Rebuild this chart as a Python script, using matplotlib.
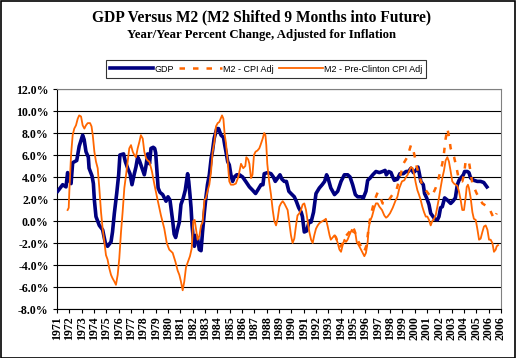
import numpy as np
import matplotlib.pyplot as plt
from matplotlib.patches import Rectangle
from matplotlib.lines import Line2D

# x values are in "years since 1971" along the category axis
gdp_x = [0.05, 0.46, 0.73, 0.86, 1.0, 1.14, 1.27, 1.6, 1.8, 2.08, 2.2, 2.35, 2.54, 2.6, 2.84,
         2.95, 3.03, 3.16, 3.43, 3.7, 3.92, 4.1, 4.38, 4.5, 4.65, 4.84, 5.0, 5.1, 5.4, 5.54,
         5.73, 5.92, 6.08, 6.27, 6.4, 6.54, 6.68, 6.9, 7.08, 7.2, 7.35, 7.5, 7.62, 7.8, 7.92,
         8.0, 8.1, 8.2, 8.35, 8.57, 8.84, 9.0, 9.16, 9.24, 9.38, 9.5, 9.62, 9.78, 9.92, 10.05,
         10.24, 10.4, 10.5, 10.59, 10.68, 10.78, 10.87, 10.95, 11.05, 11.14, 11.27, 11.4, 11.54,
         11.68, 11.8, 11.95, 12.08, 12.2, 12.35, 12.5, 12.6, 12.74, 12.95, 13.1, 13.3, 13.5,
         13.6, 13.7, 13.84, 13.97, 14.1, 14.24, 14.38, 14.57, 14.8, 15.05, 15.3, 15.6, 15.86,
         16.1, 16.27, 16.54, 16.7, 16.8, 17.08, 17.35, 17.54, 17.7, 17.89, 18.08, 18.24, 18.43,
         18.6, 18.8, 18.97, 19.24, 19.4, 19.6, 19.8, 19.9, 20.05, 20.24, 20.46, 20.6, 20.8,
         21.0, 21.27, 21.5, 21.7, 21.86, 22.0, 22.2, 22.5, 22.76, 23.03, 23.3, 23.57, 23.76,
         23.97, 24.19, 24.38, 24.65, 24.84, 25.05, 25.19, 25.38, 25.6, 25.86, 26.14, 26.4,
         26.6, 26.7, 26.9, 27.08, 27.22, 27.35, 27.6, 27.8, 28.08, 28.3, 28.5, 28.7, 28.9,
         29.1, 29.27, 29.4, 29.5, 29.7, 29.8, 29.97, 30.16, 30.3, 30.43, 30.62, 30.84, 30.97,
         31.1, 31.24, 31.43, 31.65, 31.92, 32.1, 32.3, 32.46, 32.6, 32.73, 32.95, 33.05,
         33.27, 33.4, 33.54, 33.8, 34.08, 34.35, 34.6, 34.73, 34.86]
gdp_v = [2.7, 3.3, 3.1, 4.4, 3.7, 3.4, 5.3, 5.5, 6.8, 7.8, 7.4, 6.3, 5.8, 4.8, 4.1,
         3.4, 1.9, 0.4, -0.4, -0.8, -2.0, -2.3, -1.9, -1.0, 0.7, 2.5, 4.2, 6.0, 6.1, 5.4,
         4.8, 4.3, 3.3, 4.3, 4.9, 5.8, 5.5, 4.8, 4.2, 4.9, 6.1, 5.2, 6.6, 6.7, 6.6,
         6.2, 4.6, 3.0, 2.6, 2.4, 1.8, 2.2, 1.9, 1.2, 0.0, -1.2, -1.5, -0.7, -0.1, 1.5,
         2.1, 2.8, 3.6, 4.3, 3.6, 2.4, 1.2, -0.4, -1.6, -2.3, -1.3, -1.6, -2.6,
         -2.7, -1.0, 0.8, 2.2, 3.3, 4.2, 5.7, 6.3, 7.5, 8.4, 8.4, 7.8, 7.6,
         6.9, 6.3, 5.4, 5.1, 4.2, 3.6, 4.0, 4.2, 4.2, 4.0, 3.6, 3.1, 2.8,
         2.5, 2.8, 3.3, 3.3, 4.3, 4.4, 4.3, 4.0, 3.6, 3.9, 4.2, 3.8, 3.6,
         3.6, 2.7, 2.5, 2.2, 1.8, 1.2, 0.8, 0.4, -1.0, -0.9, 0.0, -0.1, 0.8,
         2.5, 3.0, 3.3, 3.6, 4.2, 3.8, 3.0, 2.4, 2.7, 3.6, 4.2, 4.2, 4.0,
         3.3, 2.4, 2.2, 2.2, 2.1, 2.7, 3.7, 3.9, 4.2, 4.5, 4.4, 4.5,
         4.6, 4.2, 4.5, 4.4, 4.0, 3.7, 3.8, 4.3, 4.3, 4.5, 4.5, 4.8, 4.4,
         4.6, 4.9, 4.2, 3.6, 3.3, 2.5, 2.1, 1.5, 0.7, 0.5, 0.2, 0.1, 0.4,
         1.2, 1.3, 2.1, 1.9, 1.6, 1.8, 2.1, 3.3, 3.7, 3.9, 4.2, 4.5,
         4.5, 4.4, 3.9, 3.7, 3.6, 3.6, 3.5, 3.3, 3.1]

pre_x = [0.86, 0.95, 1.0, 1.05, 1.14, 1.27, 1.4, 1.54, 1.68, 1.8, 1.95, 2.08, 2.22, 2.35, 2.49,
         2.68, 2.8, 2.9, 3.03, 3.16, 3.3, 3.43, 3.57, 3.7, 3.84, 3.97, 4.1, 4.24, 4.38, 4.5,
         4.65, 4.78, 4.92, 5.05, 5.19, 5.32, 5.46, 5.6, 5.73, 5.86, 6.0, 6.14, 6.27, 6.4, 6.54,
         6.68, 6.8, 6.95, 7.08, 7.22, 7.35, 7.49, 7.7, 7.9, 8.16, 8.43, 8.7, 8.9, 9.1, 9.38,
         9.6, 9.78, 9.92, 10.05, 10.19, 10.32, 10.46, 10.59, 10.78, 10.92, 11.05, 11.16, 11.27,
         11.4, 11.54, 11.68, 11.81, 11.95, 12.08, 12.2, 12.35, 12.49, 12.62, 12.76, 12.89,
         13.03, 13.16, 13.38, 13.49, 13.6, 13.7, 13.84, 13.97, 14.1, 14.3, 14.5, 14.7, 14.92,
         15.1, 15.27, 15.35, 15.5, 15.6, 15.73, 15.85, 15.97, 16.1, 16.25, 16.4, 16.5, 16.68,
         16.8, 16.9, 16.97, 17.05, 17.2, 17.35, 17.49, 17.62, 17.76, 17.89, 18.03, 18.16, 18.3,
         18.43, 18.57, 18.7, 18.84, 18.97, 19.1, 19.24, 19.38, 19.5, 19.65, 19.78, 19.92,
         20.05, 20.19, 20.32, 20.46, 20.6, 20.73, 20.86, 21.0, 21.14, 21.27, 21.54, 21.7, 21.8,
         21.95, 22.1, 22.2, 22.35, 22.5, 22.62, 22.76, 22.9, 23.03, 23.16, 23.3, 23.43, 23.56,
         23.7, 23.9, 24.0, 24.19, 24.3, 24.46, 24.65, 24.78, 24.92, 25.05, 25.19, 25.27, 25.38,
         25.54, 25.73, 25.86, 26.0, 26.14, 26.35, 26.54, 26.68, 26.8, 27.0, 27.22, 27.43, 27.6,
         27.76, 27.97, 28.16, 28.3, 28.43, 28.57, 28.7, 28.84, 28.97, 29.08, 29.22, 29.35,
         29.49, 29.62, 29.76, 29.9, 30.03, 30.16, 30.3, 30.43, 30.57, 30.7, 30.84, 30.97, 31.1,
         31.24, 31.38, 31.51, 31.65, 31.78, 31.92, 32.05, 32.19, 32.32, 32.46, 32.59, 32.73,
         32.86, 33.0, 33.14, 33.22, 33.32, 33.4, 33.54, 33.68, 33.8, 33.95, 34.08, 34.22, 34.35,
         34.49, 34.62, 34.76, 34.9, 35.03, 35.16, 35.3, 35.43, 35.57, 35.65, 35.76]
pre_v = [1.0, 1.2, 2.7, 3.9, 6.0, 7.8, 8.4, 8.7, 9.3, 9.6, 9.5, 8.7, 8.4, 8.7, 8.9,
         8.9, 8.6, 7.8, 6.3, 5.4, 4.8, 3.0, 0.8, -0.7, -1.9, -3.1, -3.5, -4.3, -4.9, -5.2,
         -5.5, -5.8, -4.9, -3.4, -1.0, 0.8, 3.0, 4.2, 5.4, 6.6, 6.9, 6.3, 6.0, 5.8, 6.6,
         7.2, 7.8, 7.5, 6.3, 5.7, 5.5, 5.4, 4.5, 3.3, 1.9, 0.5, -0.7, -2.0, -2.6, -2.9,
         -3.7, -4.5, -4.9, -5.5, -6.3, -5.5, -4.2, -3.8, -3.2, -2.5, 0.0, 0.1, -0.7,
         -1.7, -1.4, -0.4, -0.1, 1.9, 2.1, 2.7, 3.3, 4.5, 6.3, 7.2, 8.6,
         8.9, 9.0, 9.6, 9.3, 7.8, 7.1, 5.4, 3.6, 3.3, 3.3, 3.4, 4.0, 5.2,
         4.8, 5.0, 5.8, 5.6, 5.2, 3.9, 4.2, 6.0, 6.3, 6.4, 6.6, 6.9, 7.5,
         8.0, 7.8, 6.9, 5.2, 3.6, 2.4, 1.0, 0.0, -0.4, 0.2, 1.3, 1.6, 1.8,
         1.6, 1.3, 1.0, -0.2, -1.3, -2.0, -1.6, -0.4, 0.5, 0.7, 1.0, 1.5,
         1.6, 1.0, 0.0, -1.0, -1.7, -2.0, -1.3, -0.7, -0.4, -0.2, 0.0, 0.1, 0.2,
         -0.5, -1.3, -1.7, -1.5, -1.3, -1.5, -2.0, -2.6, -2.8, -2.2, -1.7, -1.9, -1.7,
         -1.3, -0.8, -1.0, -1.1, -1.9, -2.2, -2.6, -2.9, -3.2, -2.9, -1.9, -0.7, 0.0,
         0.4, 1.2, 1.6, 1.6, 1.3, 1.0, 0.5, 0.3, 0.4, 0.7, 1.2, 1.8, 2.2,
         3.0, 3.6, 3.7, 4.0, 4.2, 4.6, 4.9, 4.8, 4.2, 3.5, 2.8, 2.4,
         1.9, 1.3, 0.8, 0.4, 0.4, 0.1, -0.4, 0.0, 0.2, 0.5, 1.3, 2.1, 3.0,
         3.9, 4.6, 5.5, 5.8, 5.4, 4.5, 3.6, 3.4, 3.3, 3.2, 2.7, 1.9,
         1.0, 1.0, 2.2, 3.1, 3.3, 3.0, 2.1, 0.8, 0.2, 0.1, -0.7, -1.7, -1.6,
         -1.0, -0.5, -0.4, -0.8, -1.7, -1.7, -2.0, -2.8, -2.6, -2.3, -2.2]

# M2 - CPI Adj: same as the pre-Clinton series until the mid 90s, only the visible part kept
cpi_x = [22.5, 22.62, 22.9, 23.2, 23.4, 23.7, 23.9, 24.1, 24.4, 24.65, 24.9, 25.1, 25.3, 25.5,
         25.75, 26.0, 26.2, 26.4, 26.65, 26.9, 27.2, 27.5, 27.75, 27.95, 28.08, 28.4, 28.7,
         28.85, 29.0, 29.15, 29.4, 29.6, 29.9, 30.3, 30.5, 30.7, 30.97, 31.24, 31.38, 31.5,
         31.65, 31.78, 31.92, 32.2, 32.4, 32.6, 32.86, 33.0, 33.14, 33.4, 33.68, 34.03, 34.49,
         35.03, 35.43, 35.65]
cpi_v = [-1.3, -1.5, -2.4, -2.0, -1.4, -1.0, -0.5, -0.8, -1.8, -2.3, -2.8, -2.2, -0.3, 0.8,
         1.9, 2.6, 2.2, 1.6, 1.5, 1.9, 2.4, 2.7, 3.8, 4.6, 5.2, 5.8, 6.9,
         6.6, 5.9, 5.0, 4.0, 3.3, 2.8, 2.2, 2.5, 3.0, 4.0, 5.2, 6.2, 7.4,
         8.4, 7.7, 6.6, 5.8, 4.8, 3.7, 3.6, 4.2, 5.5, 5.4, 3.4, 2.5, 1.6,
         1.2, 0.2, 0.7]

year_labels = [str(y) for y in range(1971, 2007)] + ['2006']

serif = 'Liberation Serif'
navy = '#000080'
orange = '#FF6600'

fig = plt.figure(figsize=(5.16, 3.58), dpi=100)
ax = fig.add_axes([57 / 516, 1 - 309 / 358, 444 / 516, 220 / 358])

ax.plot(gdp_x, gdp_v, color=navy, lw=2.6, zorder=3, solid_joinstyle='round')
ax.plot(cpi_x, cpi_v, color=orange, lw=1.8, ls=(0, (2.2, 3.2)), zorder=4)
ax.plot(pre_x, pre_v, color=orange, lw=1.3, zorder=5)

ax.set_xlim(0, 36)
ax.set_ylim(-8, 12)
ax.set_yticks(np.arange(-8, 13, 2))
ax.set_yticklabels(['%.1f%%' % v for v in np.arange(-8, 13, 2)],
                   fontfamily=serif, fontweight='bold', fontsize=8.6)
ax.set_xticks(range(len(year_labels)))
ax.set_xticklabels(year_labels, rotation=90, fontfamily=serif, fontweight='bold', fontsize=8.6)
ax.tick_params(axis='x', length=3, width=0.8, pad=2)
ax.tick_params(axis='y', length=3, width=0.8, pad=3)
ax.grid(axis='y', color='black', lw=0.8)
ax.set_axisbelow(True)
for s in ['top', 'right']:
    ax.spines[s].set_color('#808080')
for s in ax.spines.values():
    s.set_linewidth(0.8)

fig.text(0.507, 1 - 17 / 358, 'GDP Versus M2 (M2 Shifted 9 Months into Future)',
         ha='center', va='center', fontfamily=serif, fontweight='bold', fontsize=11.2)
fig.text(0.507, 1 - 35 / 358, 'Year/Year Percent Change, Adjusted for Inflation',
         ha='center', va='center', fontfamily=serif, fontweight='bold', fontsize=9.2)

handles = [Line2D([], [], color=navy, lw=2.6),
           Line2D([], [], color=orange, lw=1.8, ls=(0, (2.2, 3.2))),
           Line2D([], [], color=orange, lw=1.3)]
leg = fig.legend(handles, ['GDP', 'M2 - CPI Adj', 'M2 - Pre-Clinton CPI Adj'],
                 loc='center', bbox_to_anchor=(266 / 516, 1 - 69 / 358), ncol=3,
                 prop={'family': 'Liberation Sans', 'size': 6.5}, frameon=True, fancybox=False,
                 handlelength=4.8, handletextpad=0.1, columnspacing=0.6, borderpad=0.45)
leg.get_frame().set_edgecolor('black')
leg.get_frame().set_linewidth(0.8)

fig.patches.append(Rectangle((0.5 / 516, 0.5 / 358), 514 / 516, 356.5 / 358,
                             transform=fig.transFigure, fill=False, ec='black', lw=1.2))

fig.savefig('out.png', dpi=100)
